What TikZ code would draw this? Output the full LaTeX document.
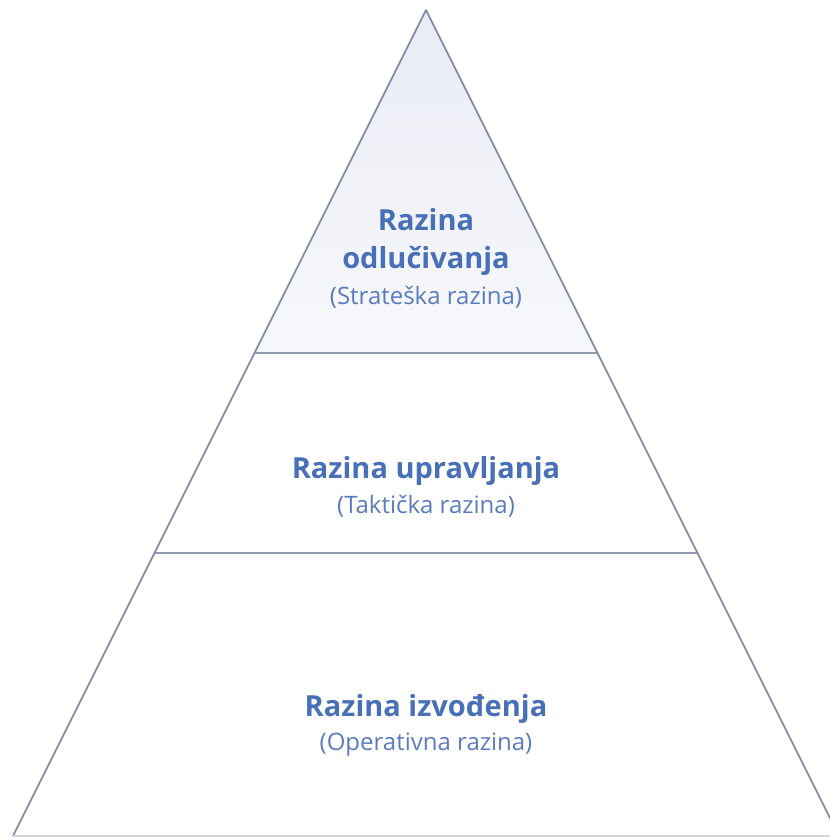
\documentclass[tikz,border=0pt]{standalone}
\usepackage{fontspec}
\setmainfont{Open Sans}
\usetikzlibrary{positioning}
\definecolor{edgegrey}{HTML}{7F88A6}
\definecolor{titleblue}{HTML}{4870B6}
\definecolor{subblue}{HTML}{5A7CBE}
\definecolor{topfill}{HTML}{E9ECF4}
\tikzstyle{side} = [draw=edgegrey, line width=1.6pt, line join=round]
\tikzstyle{divider} = [draw=edgegrey!85, line width=1.8pt]
\tikzstyle{title} = [text=titleblue, font=\fontsize{29}{38}\selectfont\bfseries,
    align=center, inner sep=0pt]
\tikzstyle{subtitle} = [text=subblue, font=\fontsize{24}{28}\selectfont, inner sep=0pt]

\begin{document}
\begin{tikzpicture}[x=1pt, y=-1pt, node distance=10pt]
            \useasboundingbox (0,0) rectangle (829,837);
            % Corners
            \coordinate (apex) at (426,10);
            \coordinate (baseleft) at (13,836);
            \coordinate (baseright) at (839,836);
            \coordinate (upperleft) at (255,353);
            \coordinate (upperright) at (597,353);
            \coordinate (lowerleft) at (155,553);
            \coordinate (lowerright) at (697,553);
            % Top level fill
            \shade[top color=topfill, bottom color=topfill!35] (apex) -- (upperleft) -- (upperright) -- cycle;
            % Outline
            \draw[side] (baseleft) -- (apex) -- (baseright);
            \draw[divider] (upperleft) -- (upperright);
            \draw[divider] (lowerleft) -- (lowerright);
            \draw[draw=edgegrey!35, line width=1.8pt] (baseleft) -- (baseright);
            % Levels
            \node[title] (strategic) at (426,242) {Razina\\odlučivanja};
            \node[subtitle, below=of strategic] (strategicsub) {(Strateška razina)};
            \node[title, anchor=base] (tactical) at (426,478) {Razina upravljanja};
            \node[subtitle, below=of tactical] (tacticalsub) {(Taktička razina)};
            \node[title, anchor=base] (operative) at (426,716) {Razina izvođenja};
            \node[subtitle, below=of operative] (operativesub) {(Operativna razina)};
        \end{tikzpicture}
\end{document}
